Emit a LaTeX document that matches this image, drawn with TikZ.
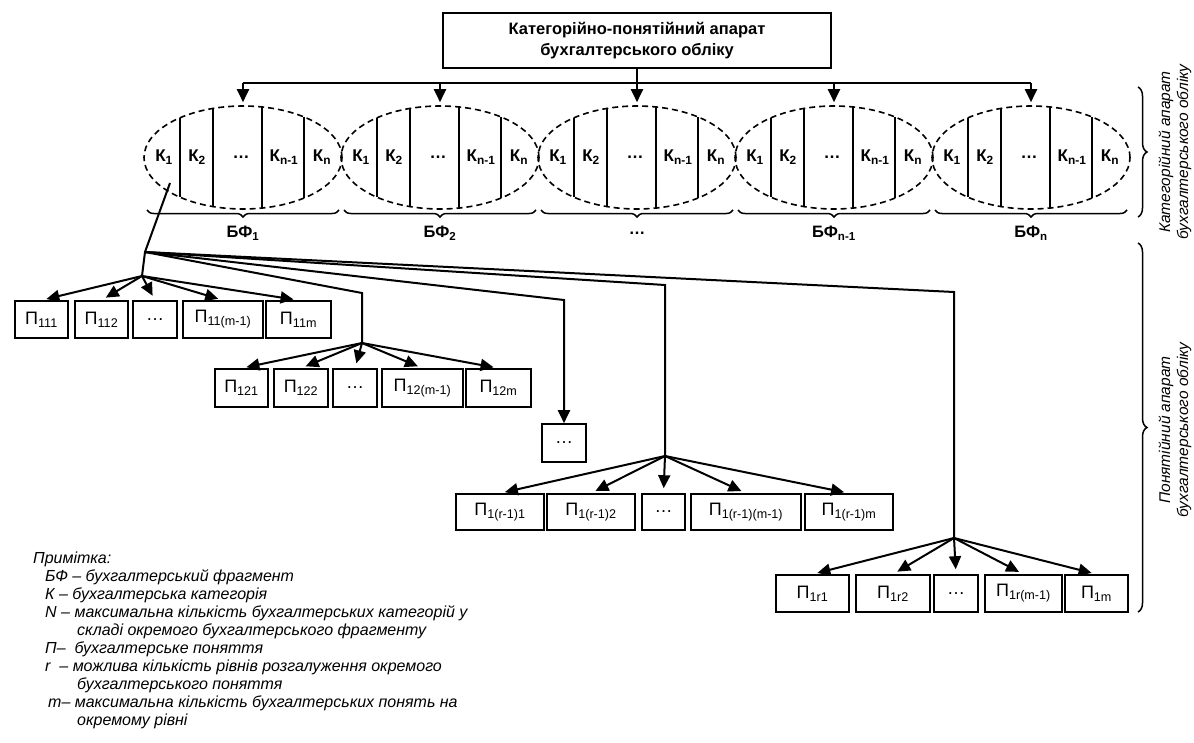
\documentclass[tikz,border=0pt]{standalone}
\usepackage{fontspec}
\setmainfont{Liberation Sans}
\usetikzlibrary{arrows.meta,shapes.geometric,decorations.pathreplacing,calc}
\begin{document}
\begin{tikzpicture}[x=1pt,y=-1pt,
  conn/.style={line width=2pt},
  arr/.style={conn,-{Triangle[length=13pt,width=12pt]}},
  pbox/.style={draw,line width=1.6pt,inner sep=0pt,font=\fontsize{18}{20}\selectfont},
  ell/.style={draw,dashed,dash pattern=on 6pt off 4pt,ellipse,line width=1.6pt,minimum width=198pt,minimum height=103pt,inner sep=0pt},
  divider/.style={line width=1.8pt},
  klab/.style={font=\bfseries\fontsize{17}{18}\selectfont,inner sep=0pt},
  bflab/.style={font=\bfseries\fontsize{16.5}{18}\selectfont,inner sep=0pt},
  bracedown/.style={decorate,decoration={brace,mirror,amplitude=7pt},line width=1.5pt},
  braceright/.style={decorate,decoration={brace,amplitude=9pt},line width=1.5pt},
  sidelab/.style={font=\itshape\fontsize{15.5}{18}\selectfont,rotate=90,align=center,inner sep=0pt},
  note/.style={font=\itshape\fontsize{16}{18}\selectfont,anchor=west,inner sep=0pt}
]
\useasboundingbox (0,0) rectangle (1194,742);

% top box
\node[draw,line width=1.6pt,minimum width=388pt,minimum height=55pt,align=center,
  font=\bfseries\fontsize{16.5}{21}\selectfont] (top) at (637,40.5)
  {Категорійно-понятійний апарат\\бухгалтерського обліку};

% ellipses
\foreach \i/\cx/\lab in {1/243/{БФ\textsubscript{1}},2/440/{БФ\textsubscript{2}},3/637/{…},4/834/{БФ\textsubscript{n-1}},5/1031/{БФ\textsubscript{n}}}{
  \node[ell] (E\i) at (\cx,157.5) {};
  \foreach \dx in {-63,-30,19,61}{
    \pgfmathsetmacro\hh{51.5*sqrt(1-(\dx/99)^2)}
    \draw[divider] ({\cx+\dx},{157.5-\hh}) -- ({\cx+\dx},{157.5+\hh});
  }
  \node[klab] (k\i a) at ({\cx-79},157) {К\textsubscript{1}};
  \node[klab] (k\i b) at ({\cx-46},157) {К\textsubscript{2}};
  \node[klab] (k\i c) at ({\cx-2},157) {…};
  \node[klab] (k\i d) at ({\cx+41},157) {К\textsubscript{n-1}};
  \node[klab] (k\i e) at ({\cx+79},157) {К\textsubscript{n}};
  \draw[bracedown] ({\cx-96},210) -- ({\cx+96},210);
  \node[bflab] (bf\i) at (\cx,233) {\lab};
  \coordinate (b\i) at (\cx,83);
}

% distribution
\draw[conn] (b1) -- (b5);
\draw[arr,shorten >=3pt] (top.south) -- (E3.north);
\foreach \i in {1,2,4,5}{\draw[arr,shorten >=3pt] (b\i) -- (E\i.north);}

% right braces and labels
\draw[braceright] (1138,87) -- (1138,217);
\draw[braceright] (1138,243) -- (1138,612);
\node[sidelab] (lab1) at (1175,152) {Категорійний апарат\\бухгалтерського обліку};
\node[sidelab] (lab2) at (1175,430) {Понятійний апарат\\бухгалтерського обліку};

% concept boxes
\foreach \n/\cx/\w/\t in {a/41.5/53/{П\textsubscript{111}},b/101.5/53/{П\textsubscript{112}},c/155/44/{…},d/223/80/{П\textsubscript{11(m-1)}},e/298.5/65/{П\textsubscript{11m}}}
  {\node[pbox,minimum width=\w pt,minimum height=37pt] (r1\n) at (\cx,319.5) {\t};}
\foreach \n/\cx/\w/\t in {a/241.5/53/{П\textsubscript{121}},b/301/54/{П\textsubscript{122}},c/355/44/{…},d/422.5/81/{П\textsubscript{12(m-1)}},e/498.5/65/{П\textsubscript{12m}}}
  {\node[pbox,minimum width=\w pt,minimum height=38pt] (r2\n) at (\cx,388) {\t};}
\foreach \n/\cx/\w/\t in {a/500/88/{П\textsubscript{1(r-1)1}},b/591/88/{П\textsubscript{1(r-1)2}},c/663.5/43/{…},d/746/110/{П\textsubscript{1(r-1)(m-1)}},e/849/88/{П\textsubscript{1(r-1)m}}}
  {\node[pbox,minimum width=\w pt,minimum height=36pt] (r4\n) at (\cx,512) {\t};}
\foreach \n/\cx/\w/\t in {a/812.5/73/{П\textsubscript{1r1}},b/893/74/{П\textsubscript{1r2}},c/956/44/{…},d/1023.5/77/{П\textsubscript{1r(m-1)}},e/1096.5/63/{П\textsubscript{1m}}}
  {\node[pbox,minimum width=\w pt,minimum height=37pt] (r5\n) at (\cx,593.5) {\t};}
\node[pbox,minimum width=44pt,minimum height=38pt] (dots) at (564,443) {…};

% fan
\coordinate (kstart) at (170,183);
\coordinate (f0) at (145,252);
\coordinate (h1) at (142,276);
\coordinate (c2) at (362,293); \coordinate (h2) at (362,343);
\coordinate (c3) at (564,300);
\coordinate (c4) at (665,285); \coordinate (h4) at (665,456);
\coordinate (c5) at (954,292); \coordinate (h5) at (954,538);
\draw[conn] (kstart) -- (f0) -- (h1);
\draw[conn] (f0) -- (c2) -- (h2);
\draw[arr] (f0) -- (c3) -- (dots.north);
\draw[conn] (f0) -- (c4) -- (h4);
\draw[conn] (f0) -- (c5) -- (h5);
\foreach \r/\h in {1/h1,2/h2,4/h4,5/h5}{
  \foreach \n in {a,b,c,d,e}{\draw[arr,shorten >=5pt] (\h) -- (r\r\n.north);}
}

% notes
\node[note] (n0) at (33,559) {Примітка:};
\node[note] (n1) at (45,577) {БФ – бухгалтерський фрагмент};
\node[note] (n2) at (45,595) {К – бухгалтерська категорія};
\node[note] (n3) at (45,613) {N – максимальна кількість бухгалтерських категорій у};
\node[note] (n4) at (77,631) {складі окремого бухгалтерського фрагменту};
\node[note] (n5) at (45,649) {П–\ \ бухгалтерське поняття};
\node[note] (n6) at (45,667) {r\ \ – можлива кількість рівнів розгалуження окремого};
\node[note] (n7) at (77,685) {бухгалтерського поняття};
\node[note] (n8) at (48,703) {m– максимальна кількість бухгалтерських понять на};
\node[note] (n9) at (77,721) {окремому рівні};
\end{tikzpicture}
\end{document}
